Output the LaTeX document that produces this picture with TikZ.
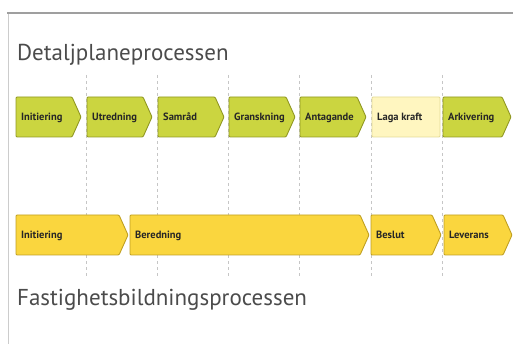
\documentclass[tikz,border=0pt]{standalone}
\usepackage{fontspec}
\setmainfont{PT Sans}
\usetikzlibrary{arrows.meta}
\tikzset{>=stealth}
\definecolor{dpgreen}{RGB}{203,213,64}
\definecolor{dpgreenline}{RGB}{145,152,35}
\definecolor{fbyellow}{RGB}{250,214,62}
\definecolor{fbyellowline}{RGB}{192,160,35}
\definecolor{lagafill}{RGB}{255,246,192}
\definecolor{lagaline}{RGB}{228,218,150}
\definecolor{titlegray}{RGB}{75,75,75}
\tikzset{
  detalj/.style={fill=dpgreen,draw=dpgreenline,line width=0.9pt,rounded corners=1pt},
  fastighet/.style={fill=fbyellow,draw=fbyellowline,line width=0.9pt,rounded corners=1pt},
  laga/.style={fill=lagafill,draw=lagaline,line width=0.9pt,rounded corners=1pt},
  steptext/.style={anchor=base west,inner sep=0pt,font=\fontsize{10.5}{12}\selectfont\bfseries,text=black!85},
  phasetitle/.style={anchor=base west,inner sep=0pt,font=\fontsize{23}{26}\selectfont,text=titlegray},
  gridline/.style={draw=gray!45,dashed,dash pattern=on 3pt off 3pt,line width=0.7pt}
}

\begin{document}
\begin{tikzpicture}[x=1pt,y=-1pt]
\useasboundingbox (0,0) rectangle (513,344);
% frame
\draw[gray!40,line width=1pt] (8,344) -- (8,13);
\draw[gray!75,line width=1.8pt] (7,13) -- (513,13);

% time grid
\foreach \gx in {86,157,228,299,371,442}
  \draw[gridline] (\gx,75) -- (\gx,276);

% titles
\node[phasetitle] (dptitle) at (17,61) {Detaljplaneprocessen};
\node[phasetitle] (fbtitle) at (17,305) {Fastighetsbildningsprocessen};

% Detaljplaneprocessen
\foreach \xa/\xb/\lbl/\nm in {16/81/Initiering/dpA,87/152/Utredning/dpB,
    158/224/Samråd/dpC,229/295/Granskning/dpD,300/366/Antagande/dpE,
    443/511/Arkivering/dpG}{
  \draw[detalj] (\xa,97) -- (\xb-9,97) -- (\xb,117) -- (\xb-9,137) --
                (\xa,137) -- cycle;
  \node[steptext] (\nm) at (\xa+5,121) {\lbl};
}
\draw[laga] (372,97) rectangle (440,137);
\node[steptext] (dpF) at (377,121) {Laga kraft};

% Fastighetsbildningsprocessen
\foreach \xa/\xb/\lbl/\nm in {16/128/Initiering/fbA,130/369/Beredning/fbB,
    371/441/Beslut/fbC,444/512/Leverans/fbD}{
  \draw[fastighet] (\xa,215) -- (\xb-9,215) -- (\xb,235) -- (\xb-9,255) --
                   (\xa,255) -- cycle;
  \node[steptext] (\nm) at (\xa+5,239) {\lbl};
}
\end{tikzpicture}
\end{document}
